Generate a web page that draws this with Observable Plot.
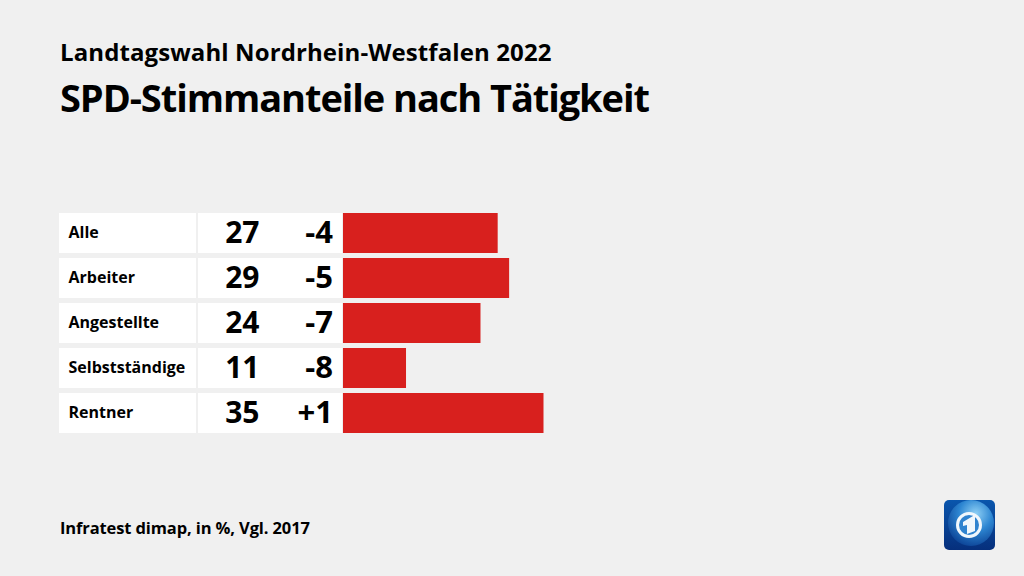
<!DOCTYPE html>
<html><head><meta charset="utf-8">
<script src="https://cdn.jsdelivr.net/npm/d3@7"></script>
<script src="https://cdn.jsdelivr.net/npm/@observablehq/plot@0.6"></script>
<style>
html,body{margin:0;padding:0;background:#f0f0f0;}
#page{position:relative;width:1024px;height:576px;overflow:hidden;background:#f0f0f0;font-family:"Open Sans",sans-serif;color:#000;}
#sub,#title,#foot{position:absolute;left:60px;white-space:nowrap;font-weight:700;}
#sub{top:35px;font-size:24px;line-height:34px;letter-spacing:.1px;}
#title{top:71px;font-size:38px;line-height:52px;letter-spacing:-1.07px;}
#foot{top:516px;font-size:16.5px;line-height:24px;letter-spacing:-.12px;}
#chart{position:absolute;left:0;top:200px;}
#chart svg{background:transparent;display:block;}
#logo{position:absolute;left:944px;top:500px;}
</style></head><body>
<div id="page">
<div id="sub">Landtagswahl Nordrhein-Westfalen 2022</div>
<div id="title">SPD-Stimmanteile nach Tätigkeit</div>
<div id="chart"></div>
<div id="foot">Infratest dimap, in %, Vgl. 2017</div>
<svg id="logo" width="51" height="50" viewBox="0 0 51 50">
<defs>
<linearGradient id="bg" x1="0" y1="0" x2="0" y2="1"><stop offset="0" stop-color="#0a56ad"/><stop offset="1" stop-color="#062f7c"/></linearGradient>
<radialGradient id="g" cx=".6" cy=".3" r=".8"><stop offset="0" stop-color="#8fd0f5"/><stop offset=".45" stop-color="#2d86d2"/><stop offset="1" stop-color="#07388c"/></radialGradient>
</defs>
<rect width="51" height="50" rx="5" fill="url(#bg)"/>
<circle cx="27" cy="23" r="23" fill="url(#g)"/>
<circle cx="25" cy="25" r="11.5" fill="#2f83cf" stroke="#f0f7fc" stroke-width="3"/>
<path d="M19 22l10-6 2 0v15l-8 3v-9l-4 1z" fill="#f0f7fc"/>
</svg>
</div>
<script>
const categories = ["Alle","Arbeiter","Angestellte","Selbstständige","Rentner"];
const shares = [27,29,24,11,35];
const changes = ["-4","-5","-7","-8","+1"];
const rows = categories.map((c,i)=>({category:c,share:shares[i],change:changes[i]}));
const font = '"Open Sans",sans-serif';
const plot = Plot.plot({
  width:1024,height:240,margin:0,
  style:{background:"transparent",fontFamily:font},
  x:{domain:[0,35],range:[343,543.5],axis:null},
  y:{domain:categories,range:[11.5,233.5],paddingInner:0.115,paddingOuter:0,axis:null},
  marks:[
    Plot.barX(rows,{x1:0,x2:0,y:"category",fill:"#fff",insetLeft:-284,insetRight:147}),
    Plot.barX(rows,{x1:0,x2:0,y:"category",fill:"#fff",insetLeft:-145,insetRight:1}),
    Plot.barX(rows,{x:"share",y:"category",fill:"#d8201e"}),
    Plot.text(rows,{x:0,y:"category",text:"category",textAnchor:"start",dx:-275,dy:-0.5,fontSize:16,fontWeight:700,fill:"#000"}),
    Plot.text(rows,{x:0,y:"category",text:d=>String(d.share),textAnchor:"end",dx:-84,dy:-0.5,fontSize:30,fontWeight:700,fill:"#000"}),
    Plot.text(rows,{x:0,y:"category",text:"change",textAnchor:"end",dx:-10.5,dy:-0.5,fontSize:31,fontWeight:700,fill:"#000"})
  ]
});
document.getElementById("chart").append(plot);
</script>
</body></html>
